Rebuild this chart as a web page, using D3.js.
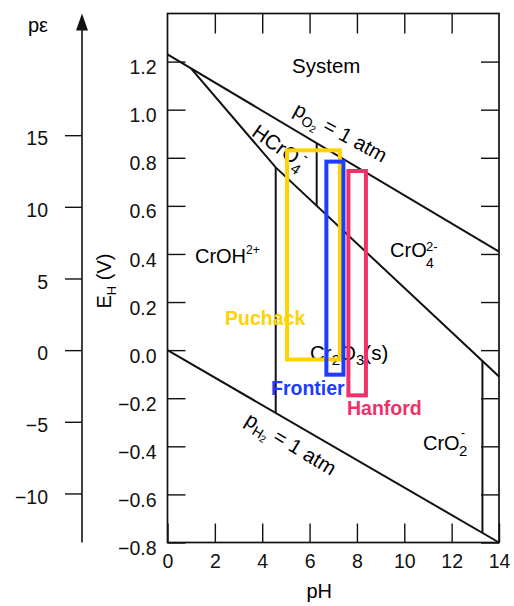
<!DOCTYPE html>
<html>
<head>
<meta charset="utf-8">
<script src="https://cdn.jsdelivr.net/npm/d3@7"></script>
<style>
  body { margin: 0; background: #fff; }
  svg { display: block; font-family: "Liberation Sans", Arial, Helvetica, sans-serif; }
</style>
</head>
<body>
<svg id="chart" width="514" height="606"></svg>
<script>
// tick values
const phTicks = [0, 2, 4, 6, 8, 10, 12, 14];
const ehTicks = [-0.8, -0.6, -0.4, -0.2, 0.0, 0.2, 0.4, 0.6, 0.8, 1.0, 1.2];
const peTicks = [-10, -5, 0, 5, 10, 15];

// stability boundaries as [pH, E_H] points
const o2Line = [[0, 1.23], [14, 0.41]];
const h2Line = [[0, 0], [14, -0.8]];
const cr6Line = [[1.0, 1.171], [4.57, 0.76], [14, -0.11]];
const hcro4Line = [[6.3, 0.861], [6.3, 0.60]];
const crohLine = [[4.57, 0.76], [4.57, -0.261]];
const cro2Line = [[13.3, -0.045], [13.3, -0.76]];

// groundwater sites: pH and E_H ranges
const sites = ["Puchack", "Frontier", "Hanford"];
const phLow = [5.05, 6.71, 7.64];
const phHigh = [7.28, 7.43, 8.38];
const ehLow = [-0.039, -0.102, -0.188];
const ehHigh = [0.831, 0.784, 0.745];

const siteColor = d3.scaleOrdinal().domain(sites).range(["#ffd200", "#1d3cff", "#ee3169"]);

const svg = d3.select("#chart");

const x = d3.scaleLinear().domain([0, 14]).range([167.5, 499]);
const y = d3.scaleLinear().domain([-0.8, 1.4]).range([542.5, 13.5]);
// p-epsilon = E_H / 0.0596
const pe = d3.scaleLinear().domain([-0.8 / 0.0596, 1.4 / 0.0596]).range([542.5, 13.5]);

const line = d3.line().x(d => x(d[0])).y(d => y(d[1]));

function styleAxis(g, size) {
    g.select(".domain").remove();
    g.selectAll(".tick line").attr("stroke", "#111").attr("stroke-width", 1.4);
    g.selectAll(".tick text")
        .attr("fill", "#111")
        .attr("font-size", size)
        .attr("font-family", "'Liberation Sans', Arial, sans-serif");
}

// axes
svg.append("g")
    .attr("transform", `translate(0,${y(-0.8)})`)
    .call(d3.axisBottom(x).tickValues(phTicks).tickSize(-19).tickPadding(12).tickSizeOuter(0))
    .call(g => styleAxis(g, 19.5));

svg.append("g")
    .attr("transform", `translate(0,${y(1.4)})`)
    .call(d3.axisTop(x).tickValues(phTicks.slice(1, -1)).tickSize(-20).tickFormat(""))
    .call(g => styleAxis(g, 19));

svg.append("g")
    .attr("transform", `translate(${x(0)},0)`)
    .call(d3.axisLeft(y).tickValues(ehTicks).tickSize(-18).tickPadding(11).tickFormat(d3.format(".1f")))
    .call(g => styleAxis(g, 19.5))
    .call(g => g.selectAll(".tick text").attr("dy", "0.62em"));

svg.append("g")
    .attr("transform", `translate(${x(14)},0)`)
    .call(d3.axisRight(y).tickValues(ehTicks).tickSize(-18).tickFormat(""))
    .call(g => styleAxis(g, 19));

// p-epsilon axis with arrow
const peX = 82;
svg.append("g")
    .attr("transform", `translate(${peX},0)`)
    .call(d3.axisLeft(pe).tickValues(peTicks).tickSize(17).tickPadding(17))
    .call(g => styleAxis(g, 19.5))
    .call(g => g.selectAll(".tick text").attr("dy", "0.5em"));

svg.append("line")
    .attr("x1", peX).attr("x2", peX)
    .attr("y1", pe.range()[0]).attr("y2", pe.range()[1] + 12)
    .attr("stroke", "#111").attr("stroke-width", 1.6);

svg.append("path")
    .attr("d", `M${peX},${pe.range()[1]} L${peX - 6},${pe.range()[1] + 17} L${peX + 6},${pe.range()[1] + 17} Z`)
    .attr("fill", "#111");

svg.append("text")
    .attr("x", 28).attr("y", 32)
    .attr("font-size", 20)
    .text("pε");

// frame
svg.append("rect")
    .attr("x", x(0)).attr("y", y(1.4))
    .attr("width", x(14) - x(0)).attr("height", y(-0.8) - y(1.4))
    .attr("fill", "none").attr("stroke", "#111").attr("stroke-width", 1.7);

// axis titles
svg.append("text")
    .attr("x", (x(0) + x(14)) / 2 - 14).attr("y", 598)
    .attr("text-anchor", "middle")
    .attr("font-size", 20)
    .text("pH");

const eLabel = svg.append("text")
    .attr("transform", "translate(111,281) rotate(-90)")
    .attr("text-anchor", "middle")
    .attr("font-size", 20);
eLabel.append("tspan").text("E");
eLabel.append("tspan").attr("font-size", 13).attr("dy", 5).text("H");
eLabel.append("tspan").attr("dy", -5).text(" (V)");

// boundaries
[o2Line, h2Line, cr6Line, hcro4Line, crohLine, cro2Line].forEach(pts => {
    svg.append("path")
        .attr("d", line(pts))
        .attr("fill", "none")
        .attr("stroke", "#111")
        .attr("stroke-width", 2);
});

// rotated line labels
const angle = pts => Math.atan2(y(pts[1][1]) - y(pts[0][1]), x(pts[1][0]) - x(pts[0][0])) * 180 / Math.PI;

const o2Text = svg.append("text")
    .attr("transform", `translate(${x(5.27)},${y(0.983)}) rotate(${angle(o2Line) - 2})`)
    .attr("font-size", 20.5);
o2Text.append("tspan").text("p");
o2Text.append("tspan").attr("font-size", 14).attr("dy", 5).text("O");
o2Text.append("tspan").attr("font-size", 10).attr("dy", 2).text("2");
o2Text.append("tspan").attr("dy", -7).text(" = 1 atm");

const h2Text = svg.append("text")
    .attr("transform", `translate(${x(3.22)},${y(-0.305)}) rotate(${angle(h2Line) + 1})`)
    .attr("font-size", 20.5);
h2Text.append("tspan").text("p");
h2Text.append("tspan").attr("font-size", 14).attr("dy", 5).text("H");
h2Text.append("tspan").attr("font-size", 10).attr("dy", 2).text("2");
h2Text.append("tspan").attr("dy", -7).text(" = 1 atm");

const hcrText = svg.append("text")
    .attr("transform", `translate(${x(3.5)},${y(0.895)}) rotate(35)`)
    .attr("font-size", 20.5);
hcrText.append("tspan").text("HCrO");
hcrText.append("tspan").attr("font-size", 15).attr("dy", 7).text("4");
hcrText.append("tspan").attr("font-size", 14).attr("dx", -5).attr("dy", -17).text("-");

// species labels
svg.append("text")
    .attr("x", x(5.26)).attr("y", y(1.152))
    .attr("font-size", 20.5)
    .text("System");

const crohText = svg.append("text")
    .attr("x", x(1.16)).attr("y", y(0.363))
    .attr("font-size", 20);
crohText.append("tspan").text("CrOH");
crohText.append("tspan").attr("font-size", 12).attr("dy", -9).text("2+");

const cro4Text = svg.append("text")
    .attr("x", x(9.4)).attr("y", y(0.387))
    .attr("font-size", 20);
cro4Text.append("tspan").text("CrO");
svg.append("text")
    .attr("x", x(9.4) + 36).attr("y", y(0.387) - 6)
    .attr("font-size", 13).text("2-");
svg.append("text")
    .attr("x", x(9.4) + 36).attr("y", y(0.387) + 11)
    .attr("font-size", 14).text("4");

svg.append("text")
    .attr("x", x(10.79)).attr("y", y(-0.416))
    .attr("font-size", 20).text("CrO");
svg.append("text")
    .attr("x", x(10.79) + 36).attr("y", y(-0.416) + 6)
    .attr("font-size", 15).text("2");
svg.append("text")
    .attr("x", x(10.79) + 38).attr("y", y(-0.416) - 13)
    .attr("font-size", 12).text("-");

const cr2o3Text = svg.append("text")
    .attr("x", x(6.02)).attr("y", y(-0.041))
    .attr("font-size", 20.5);
cr2o3Text.append("tspan").text("Cr");
cr2o3Text.append("tspan").attr("font-size", 15).attr("dy", 5).text("2");
cr2o3Text.append("tspan").attr("dy", -5).text("O");
cr2o3Text.append("tspan").attr("font-size", 15).attr("dy", 5).text("3");
cr2o3Text.append("tspan").attr("dy", -5).text("(s)");

// site boxes
svg.append("g")
    .selectAll("rect")
    .data(sites)
    .join("rect")
    .attr("x", (d, i) => x(phLow[i]))
    .attr("y", (d, i) => y(ehHigh[i]))
    .attr("width", (d, i) => x(phHigh[i]) - x(phLow[i]))
    .attr("height", (d, i) => y(ehLow[i]) - y(ehHigh[i]))
    .attr("fill", "none")
    .attr("stroke", d => siteColor(d))
    .attr("stroke-width", 4);

// site labels
const siteLabelPos = [[2.43, 0.104], [4.37, -0.187], [7.58, -0.27]];
svg.append("g")
    .selectAll("text")
    .data(sites)
    .join("text")
    .attr("x", (d, i) => x(siteLabelPos[i][0]))
    .attr("y", (d, i) => y(siteLabelPos[i][1]))
    .attr("font-size", 19.5)
    .attr("font-weight", "bold")
    .attr("fill", d => siteColor(d))
    .text(d => d);
</script>
</body>
</html>
